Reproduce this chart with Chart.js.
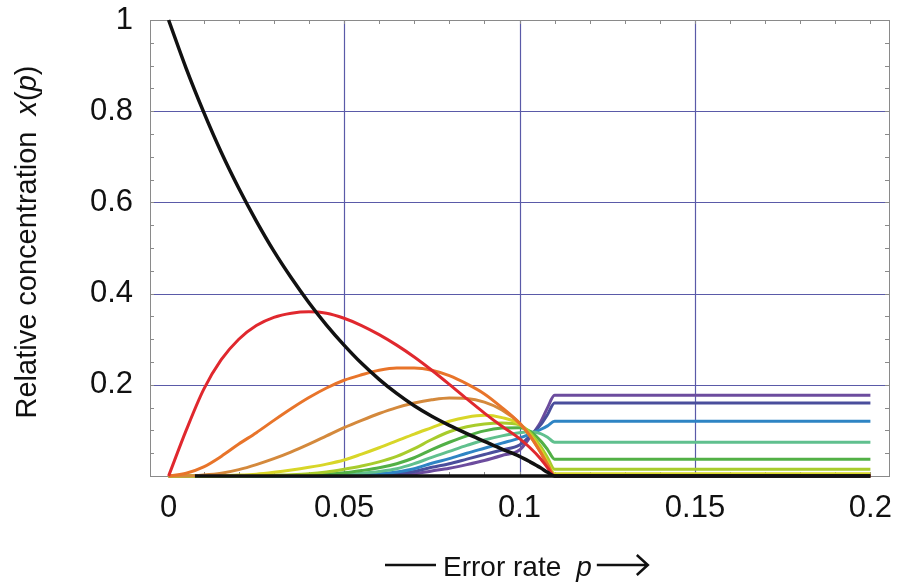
<!DOCTYPE html>
<html>
<head>
<meta charset="utf-8">
<script src="https://cdn.jsdelivr.net/npm/chart.js@4.4.1/dist/chart.umd.min.js"></script>
<style>
  body { margin: 0; background: #fff; }
  #wrap { width: 918px; height: 585px; }
</style>
</head>
<body>
<div id="wrap"><canvas id="quasiChart" width="918" height="585"></canvas></div>
<script>
// error rate p (x axis)
const errorRate = [0, 0.005, 0.01, 0.015, 0.02, 0.025, 0.03, 0.035, 0.04, 0.045, 0.05, 0.055, 0.06, 0.065,
  0.07, 0.075, 0.08, 0.085, 0.09, 0.095, 0.1, 0.103, 0.106, 0.108, 0.11, 0.2];

// relative concentrations, master sequence and error classes 1..10
const master = [1, 0.894, 0.798, 0.71, 0.631, 0.559, 0.493, 0.434, 0.38, 0.331, 0.287, 0.247, 0.212, 0.181,
  0.154, 0.131, 0.111, 0.093, 0.076, 0.059, 0.043, 0.031, 0.018, 0.008, 0, 0];
const class1 = [0, 0.1, 0.19, 0.255, 0.3, 0.33, 0.348, 0.357, 0.36, 0.357, 0.346, 0.33, 0.31, 0.287,
  0.261, 0.232, 0.201, 0.169, 0.138, 0.109, 0.082, 0.062, 0.038, 0.018, 0, 0];
const class2 = [0, 0.006, 0.02, 0.043, 0.07, 0.095, 0.122, 0.148, 0.172, 0.193, 0.21, 0.222, 0.232, 0.237,
  0.237, 0.232, 0.22, 0.202, 0.18, 0.15, 0.116, 0.088, 0.052, 0.025, 0, 0];
const class3 = [0, 0, 0.002, 0.006, 0.014, 0.025, 0.038, 0.053, 0.07, 0.088, 0.106, 0.122, 0.137, 0.15,
  0.16, 0.167, 0.171, 0.17, 0.162, 0.145, 0.116, 0.088, 0.052, 0.025, 0.001, 0.001];
const class4 = [0, 0, 0, 0.001, 0.002, 0.004, 0.008, 0.013, 0.019, 0.026, 0.035, 0.048, 0.062, 0.077,
  0.092, 0.106, 0.12, 0.129, 0.133, 0.128, 0.114, 0.09, 0.058, 0.03, 0.005, 0.005];
const class5 = [0, 0, 0, 0, 0, 0.001, 0.002, 0.003, 0.005, 0.009, 0.015, 0.022, 0.031, 0.043,
  0.06, 0.08, 0.097, 0.108, 0.114, 0.116, 0.112, 0.095, 0.065, 0.04, 0.015, 0.015];
const class6 = [0, 0, 0, 0, 0, 0, 0, 0.001, 0.002, 0.004, 0.007, 0.012, 0.018, 0.027,
  0.04, 0.058, 0.074, 0.088, 0.099, 0.105, 0.106, 0.098, 0.077, 0.058, 0.037, 0.037];
const class7 = [0, 0, 0, 0, 0, 0, 0, 0, 0.001, 0.002, 0.003, 0.006, 0.01, 0.016,
  0.027, 0.041, 0.054, 0.067, 0.079, 0.088, 0.095, 0.097, 0.093, 0.085, 0.074, 0.074];
const class8 = [0, 0, 0, 0, 0, 0, 0, 0, 0, 0, 0.001, 0.003, 0.005, 0.009,
  0.016, 0.028, 0.038, 0.05, 0.061, 0.072, 0.083, 0.092, 0.102, 0.11, 0.12, 0.12];
const class9 = [0, 0, 0, 0, 0, 0, 0, 0, 0, 0, 0, 0.001, 0.003, 0.005,
  0.01, 0.019, 0.027, 0.037, 0.047, 0.057, 0.068, 0.088, 0.112, 0.135, 0.16, 0.16];
const class10 = [0, 0, 0, 0, 0, 0, 0, 0, 0, 0, 0, 0, 0.001, 0.002,
  0.005, 0.011, 0.017, 0.025, 0.034, 0.045, 0.057, 0.085, 0.118, 0.15, 0.177, 0.177];
// the higher classes stay at zero along the bottom
const tailRate = [0.0075, 0.2];
const tail = [0, 0];

const xTicks = [0, 0.05, 0.1, 0.15, 0.2];
const yTicks = [0.2, 0.4, 0.6, 0.8, 1];
const xGrid = [0.05, 0.1, 0.15];
const yGrid = [0.2, 0.4, 0.6, 0.8];

const series = [
  { name: 'x0', values: master, color: '#111111' },
  { name: 'x1', values: class1, color: '#e0282e' },
  { name: 'x2', values: class2, color: '#e8742a' },
  { name: 'x3', values: class3, color: '#d4893c' },
  { name: 'x4', values: class4, color: '#d8d628' },
  { name: 'x5', values: class5, color: '#a8cc2c' },
  { name: 'x6', values: class6, color: '#52b046' },
  { name: 'x7', values: class7, color: '#60c08e' },
  { name: 'x8', values: class8, color: '#2e84c4' },
  { name: 'x9', values: class9, color: '#4a4e9c' },
  { name: 'x10', values: class10, color: '#6c4c9e' },
];

const gridColor = '#5a5aa8';
const fontFam = '"Liberation Sans", Arial, Helvetica, sans-serif';

const datasets = [{
  label: 'rest',
  data: tailRate.map((p, i) => ({ x: p, y: tail[i] })),
  borderColor: '#111111',
  borderWidth: 3.5,
  pointRadius: 0,
  clip: false,
}];
series.forEach(s => {
  datasets.push({
    label: s.name,
    data: errorRate.map((p, i) => ({ x: p, y: s.values[i] })),
    borderColor: s.color,
    borderWidth: s.name === 'x0' ? 3.5 : 3,
    pointRadius: 0,
    cubicInterpolationMode: 'monotone',
    clip: false,
  });
});

const framePlugin = {
  id: 'frame',
  beforeDatasetsDraw(chart) {
    const { ctx, chartArea: a, scales } = chart;
    ctx.save();
    // grid
    ctx.strokeStyle = gridColor;
    ctx.lineWidth = 1.2;
    ctx.beginPath();
    xGrid.forEach(v => {
      const x = Math.round(scales.x.getPixelForValue(v)) + 0.5;
      ctx.moveTo(x, a.top); ctx.lineTo(x, a.bottom);
    });
    yGrid.forEach(v => {
      const y = Math.round(scales.y.getPixelForValue(v)) + 0.5;
      ctx.moveTo(a.left, y); ctx.lineTo(a.right, y);
    });
    ctx.stroke();
    // frame and small ticks
    ctx.strokeStyle = '#8a8a8a';
    ctx.lineWidth = 1;
    ctx.strokeRect(a.left + 0.5, a.top + 0.5, a.right - a.left, a.bottom - a.top);
    ctx.beginPath();
    for (let v = 0.05; v < 1; v += 0.05) {
      const y = Math.round(scales.y.getPixelForValue(v)) + 0.5;
      ctx.moveTo(a.left, y); ctx.lineTo(a.left + 4, y);
      ctx.moveTo(a.right, y); ctx.lineTo(a.right - 4, y);
    }
    for (let v = 0; v <= 0.2001; v += 0.01) {
      const x = Math.round(scales.x.getPixelForValue(v)) + 0.5;
      ctx.moveTo(x, a.top); ctx.lineTo(x, a.top + 4);
      ctx.moveTo(x, a.bottom); ctx.lineTo(x, a.bottom - 4);
    }
    ctx.stroke();
    ctx.restore();
  },
  afterDraw(chart) {
    const { ctx } = chart;
    ctx.save();
    ctx.fillStyle = '#111';
    ctx.strokeStyle = '#111';
    // y title
    const parts = [['Relative concentration  ', ''], ['x', 'italic '], ['(', ''], ['p', 'italic '], [')', '']];
    const ySize = 29;
    let total = 0;
    parts.forEach(([t, st]) => { ctx.font = st + ySize + 'px ' + fontFam; total += ctx.measureText(t).width; });
    ctx.translate(28, 242);
    ctx.rotate(-Math.PI / 2);
    ctx.textBaseline = 'middle';
    let cx = -total / 2;
    parts.forEach(([t, st]) => {
      ctx.font = st + ySize + 'px ' + fontFam;
      ctx.fillText(t, cx, 0);
      cx += ctx.measureText(t).width;
    });
    ctx.setTransform(1, 0, 0, 1, 0, 0);
    // x title
    const base = 576, mid = 565;
    ctx.lineWidth = 2.5;
    ctx.beginPath();
    ctx.moveTo(385, mid); ctx.lineTo(436, mid);
    ctx.stroke();
    ctx.font = '28px ' + fontFam;
    ctx.textBaseline = 'alphabetic';
    ctx.fillText('Error rate', 443, base);
    let px = 443 + ctx.measureText('Error rate').width + 15;
    ctx.font = 'italic 28px ' + fontFam;
    ctx.fillText('p', px, base);
    px += ctx.measureText('p').width + 5;
    ctx.beginPath();
    ctx.moveTo(px, mid); ctx.lineTo(px + 50, mid);
    ctx.moveTo(px + 40, mid - 10); ctx.lineTo(px + 51, mid); ctx.lineTo(px + 40, mid + 10);
    ctx.stroke();
    ctx.restore();
  }
};

const config = {
  type: 'line',
  data: { datasets: datasets },
  options: {
    responsive: false,
    animation: false,
    layout: { padding: { left: 0, top: 20, right: 29, bottom: 0 } },
    plugins: { legend: { display: false }, tooltip: { enabled: false } },
    scales: {
      x: {
        type: 'linear',
        min: -0.0053,
        max: 0.2053,
        afterBuildTicks: s => { s.ticks = xTicks.map(v => ({ value: v })); },
        afterFit: s => { s.height = 109; s.paddingLeft = 0; s.paddingRight = 0; },
        border: { display: false },
        grid: { display: false, drawTicks: false },
        ticks: {
          padding: 14,
          color: '#111',
          font: { family: fontFam, size: 31 },
          callback: v => String(v),
        },
      },
      y: {
        min: 0,
        max: 1,
        afterBuildTicks: s => { s.ticks = yTicks.map(v => ({ value: v })); },
        afterFit: s => { s.width = 150; s.paddingTop = 0; s.paddingBottom = 0; },
        border: { display: false },
        grid: { display: false, drawTicks: false },
        ticks: {
          padding: 17,
          color: '#111',
          font: { family: fontFam, size: 31 },
          callback: v => String(v),
        },
      },
    },
  },
  plugins: [framePlugin],
};

const quasiChart = new Chart(document.getElementById('quasiChart'), config);
</script>
</body>
</html>
